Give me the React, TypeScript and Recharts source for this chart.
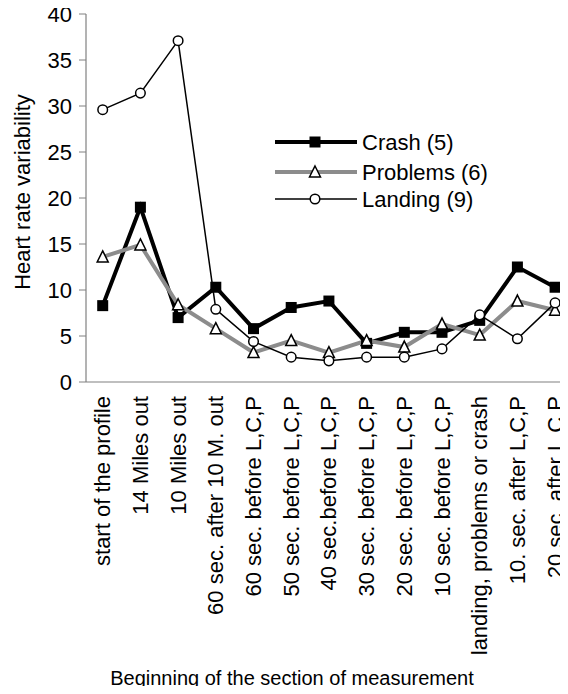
import React from 'react'
import { LineChart, Line, XAxis, YAxis } from 'recharts'

const categories = [
  'start of the profile',
  '14 Miles out',
  '10 Miles out',
  '60 sec. after 10 M. out',
  '60 sec. before L,C,P',
  '50 sec. before L,C,P',
  '40 sec.before L,C,P',
  '30 sec. before L,C,P',
  '20 sec. before L,C,P',
  '10 sec. before L,C,P',
  'landing, problems or crash',
  '10. sec. after L,C,P',
  '20 sec. after L,C,P',
]

const crash = [8.3, 19.0, 7.0, 10.3, 5.8, 8.1, 8.8, 4.2, 5.4, 5.4, 6.7, 12.5, 10.3]
const problems = [13.6, 14.9, 8.4, 5.8, 3.2, 4.5, 3.2, 4.5, 3.8, 6.3, 5.1, 8.8, 7.8]
const landing = [29.6, 31.4, 37.1, 7.9, 4.4, 2.7, 2.3, 2.7, 2.7, 3.6, 7.3, 4.7, 8.6]

const yTicks = [0, 5, 10, 15, 20, 25, 30, 35, 40]

const FONT = '"Liberation Sans", Arial, sans-serif'
const AXIS_GRAY = '#808080'
const PROBLEMS_GRAY = '#8c8c8c'

const chartData = categories.map((name, i) => ({
  idx: i,
  name,
  crash: crash[i],
  problems: problems[i],
  landing: landing[i],
}))

// markers
const SquareDot = (props: any) => {
  const { cx, cy, index } = props
  if (cx == null || cy == null) return null
  return <rect key={`sq-${index}`} x={cx - 5.5} y={cy - 5.5} width={11} height={11} fill="#000" />
}

const TriangleDot = (props: any) => {
  const { cx, cy, index } = props
  if (cx == null || cy == null) return null
  const p = `${cx},${cy - 6} ${cx + 5.5},${cy + 5} ${cx - 5.5},${cy + 5}`
  return <polygon key={`tr-${index}`} points={p} fill="#fff" stroke="#000" strokeWidth={1.5} />
}

const CircleDot = (props: any) => {
  const { cx, cy, index } = props
  if (cx == null || cy == null) return null
  return <circle key={`ci-${index}`} cx={cx} cy={cy} r={4.8} fill="#fff" stroke="#000" strokeWidth={1.5} />
}

const XTick = (props: any) => {
  const { x, payload } = props
  const y = 396
  return (
    <text
      x={x}
      y={y}
      transform={`rotate(-90 ${x} ${y})`}
      textAnchor="end"
      dominantBaseline="central"
      fontSize={22}
      fontFamily={FONT}
      fill="#000"
    >
      {categories[payload.value]}
    </text>
  )
}

const legendRows = [
  { label: 'Crash (5)', color: '#000', width: 4, marker: 'square' },
  { label: 'Problems (6)', color: PROBLEMS_GRAY, width: 4, marker: 'triangle' },
  { label: 'Landing (9)', color: '#000', width: 1.5, marker: 'circle' },
]
const legendRowY = [8, 38, 65]

const ChartLegend = () => (
  <svg
    width={270}
    height={80}
    style={{ position: 'absolute', left: 275, top: 134, display: 'block', overflow: 'visible' }}
  >
    {legendRows.map((r, i) => {
      const y = legendRowY[i]
      const mx = 40
      return (
        <g key={r.label}>
          <line x1={0} x2={82} y1={y} y2={y} stroke={r.color} strokeWidth={r.width} />
          {r.marker === 'square' && <rect x={mx - 5.5} y={y - 5.5} width={11} height={11} fill="#000" />}
          {r.marker === 'triangle' && (
            <polygon
              points={`${mx},${y - 6} ${mx + 5.5},${y + 5} ${mx - 5.5},${y + 5}`}
              fill="#fff"
              stroke="#000"
              strokeWidth={1.5}
            />
          )}
          {r.marker === 'circle' && (
            <circle cx={mx} cy={y} r={4.8} fill="#fff" stroke="#000" strokeWidth={1.5} />
          )}
          <text x={87} y={y} dominantBaseline="central" fontSize={22} fontFamily={FONT} fill="#000">
            {r.label}
          </text>
        </g>
      )
    })}
  </svg>
)

export default function App() {
  return (
    <div style={{ position: 'relative', width: 568, height: 694, margin: -8 }}>
      <LineChart
        width={568}
        height={694}
        data={chartData}
        margin={{ top: 14, right: 0, left: 0, bottom: 0 }}
      >
        <XAxis
          dataKey="idx"
          type="number"
          domain={[-0.443, 12.342]}
          allowDataOverflow
          ticks={categories.map((_, i) => i)}
          interval={0}
          tick={<XTick />}
          tickLine={false}
          axisLine={{ stroke: AXIS_GRAY, strokeWidth: 1.2 }}
          height={312}
          label={() => (
            <text
              x={292}
              y={678}
              textAnchor="middle"
              dominantBaseline="central"
              fontSize={20}
              fontFamily={FONT}
              fill="#000"
            >
              Beginning of the section of measurement
            </text>
          )}
        />
        <YAxis
          domain={[0, 40]}
          ticks={yTicks}
          interval={0}
          width={86}
          tickSize={7}
          tickMargin={7}
          tickLine={{ stroke: AXIS_GRAY }}
          axisLine={{ stroke: AXIS_GRAY, strokeWidth: 1.2 }}
          tick={{ fontSize: 22, fontFamily: FONT, fill: '#000' }}
          label={() => (
            <text
              x={22}
              y={192}
              transform="rotate(-90 22 192)"
              textAnchor="middle"
              dominantBaseline="central"
              fontSize={22}
              fontFamily={FONT}
              fill="#000"
            >
              Heart rate variability
            </text>
          )}
        />
        <Line
          dataKey="crash"
          stroke="#000"
          strokeWidth={4}
          dot={<SquareDot />}
          activeDot={false}
          isAnimationActive={false}
        />
        <Line
          dataKey="problems"
          stroke={PROBLEMS_GRAY}
          strokeWidth={4}
          dot={<TriangleDot />}
          activeDot={false}
          isAnimationActive={false}
        />
        <Line
          dataKey="landing"
          stroke="#000"
          strokeWidth={1.5}
          dot={<CircleDot />}
          activeDot={false}
          isAnimationActive={false}
        />
      </LineChart>
      <ChartLegend />
    </div>
  )
}
